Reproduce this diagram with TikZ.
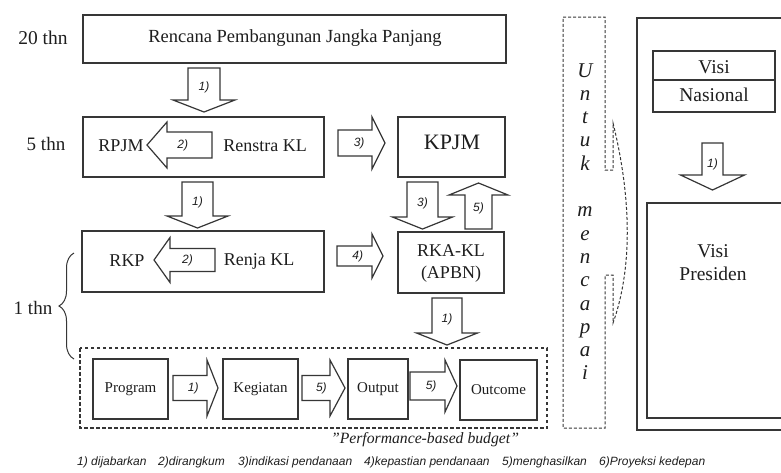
\documentclass[tikz,border=0pt]{standalone}
\usepackage{fontspec}
\setmainfont{Liberation Serif}
\newfontfamily\labelfont{Liberation Sans}
\usetikzlibrary{decorations.pathreplacing}

\definecolor{linec}{HTML}{363636}
\definecolor{ink}{HTML}{1E1E1E}

\tikzset{
  frame/.style={draw=linec, line width=1.2pt, inner sep=0pt},
  dashframe/.style={draw=linec, line width=1.1pt, dash pattern=on 3.5pt off 2.5pt},
  barrow/.style={draw=linec, line width=1.2pt, fill=white, line join=miter},
  alabel/.style={font=\labelfont\itshape\fontsize{12}{12}\selectfont, text=ink, inner sep=0pt},
  txt/.style={font=\fontsize{#1}{#1}\selectfont, text=ink, inner sep=0pt},
  txt/.default=18,
  legend/.style={font=\labelfont\itshape\fontsize{12}{12}\selectfont, text=ink, inner sep=0pt, anchor=west},
  vletter/.style={font=\itshape\fontsize{21}{21}\selectfont, text=ink, inner sep=0pt, anchor=base},
}

% block arrow: name, tail point, direction angle, length, shaft half-width,
% head half-width, head length, label
\newcommand{\blockarrow}[8]{%
  \begin{scope}[shift={#2}, rotate=#3]
    \draw[barrow] (0,#5) -- ({#4-#7},#5) -- ({#4-#7},#6) -- (#4,0)
      -- ({#4-#7},-#6) -- ({#4-#7},-#5) -- (0,-#5) -- cycle;
    \node[alabel] (#1) at ({0.45*#4},0) {#8};
  \end{scope}}

\begin{document}
\begin{tikzpicture}[x=1pt, y=-1pt]
\useasboundingbox (0,0) rectangle (781,472);
\fill[white] (0,0) rectangle (781,472);

% ---- period labels
\node[txt=19.5] (t20) at (43,38) {20 thn};
\node[txt=19] (t5) at (46,144) {5 thn};
\node[txt=19] (t1) at (33,308) {1 thn};
\draw[linec, line width=1pt, decorate, decoration={brace, amplitude=15pt}]
  (74,359) -- (74,253);

% ---- long-term plan
\node[frame, minimum width=423pt, minimum height=48pt] (rpjp) at (294.5,39) {};
\node[txt=18.5] (rpjpt) at (295,38) {Rencana Pembangunan Jangka Panjang};

% ---- five-year row
\node[frame, minimum width=241pt, minimum height=60pt] (row5) at (203.5,147) {};
\node[txt] (rpjm) at (121,146) {RPJM};
\node[txt] (renstra) at (265,146) {Renstra KL};
\node[frame, minimum width=107pt, minimum height=60pt] (kpjm) at (451.5,147) {};
\node[txt=22] (kpjmt) at (452,142) {KPJM};

% ---- one-year row
\node[frame, minimum width=242pt, minimum height=61pt] (row1) at (203,261.5) {};
\node[txt] (rkp) at (127,261) {RKP};
\node[txt] (renja) at (259,261) {Renja KL};
\node[frame, minimum width=106pt, minimum height=61pt] (rka) at (451,262.5) {};
\node[txt] (rkat) at (451,251) {RKA-KL};
\node[txt] (apbn) at (451,274) {(APBN)};

% ---- performance-based budget chain
\draw[dashframe] (80,348) rectangle (547,428);
\node[frame, minimum width=75pt, minimum height=60pt] (prog) at (130.5,389) {};
\node[txt=15] at (prog) {Program};
\node[frame, minimum width=75pt, minimum height=60pt] (keg) at (260.5,389) {};
\node[txt=15] at (keg) {Kegiatan};
\node[frame, minimum width=60pt, minimum height=60pt] (outp) at (378,389) {};
\node[txt=15] at (outp) {Output};
\node[frame, minimum width=77pt, minimum height=60pt] (outc) at (498.5,390) {};
\node[txt=15] at (outc) {Outcome};
\node[font=\itshape\fontsize{15.7}{16}\selectfont, text=ink, inner sep=0pt] (pbb)
  at (425,440) {"Performance-based budget"};

% ---- block arrows
\blockarrow{a1}{(204,68)}{-90}{44}{16}{31}{12}{1)}
\blockarrow{a2}{(212,145)}{180}{65}{13}{23}{20}{2)}
\blockarrow{a3}{(338,143)}{0}{47}{13}{26}{13}{3)}
\blockarrow{a1b}{(197.5,182)}{-90}{46}{15.5}{30.5}{12}{1)}
\blockarrow{a2b}{(215,260)}{180}{61}{11.5}{22.5}{16}{2)}
\blockarrow{a4}{(337,256)}{0}{46}{10}{22}{11}{4)}
\blockarrow{a3b}{(422.5,182)}{-90}{47}{15.5}{30}{12}{3)}
\blockarrow{a5}{(478.5,229)}{90}{46}{13.5}{29.5}{12}{5)}
\blockarrow{a1c}{(447,298)}{-90}{47}{15}{30.5}{12}{1)}
\blockarrow{b1}{(173,388)}{0}{45}{12.5}{28}{11}{1)}
\blockarrow{b2}{(302,388)}{0}{43}{12.5}{28}{15}{5)}
\blockarrow{b3}{(410,386)}{0}{47}{14}{26}{12}{5)}

% ---- "Untuk mencapai" column with its dashed arrow head
\draw[dashframe, line width=1pt, dash pattern=on 3pt off 2pt]
  (563,17) -- (605,17) -- (605,170) -- (613,170) -- (613,123)
  .. controls (632,200) and (632,270) .. (613,323)
  -- (613,275) -- (605,275) -- (605,428) -- (563,428) -- cycle;
\foreach \ch [count=\i from 0] in {U,n,t,u,k,{},m,e,n,c,a,p,a,i}
  \node[vletter] (u\i) at (585,{77+23.3*\i}) {\ch};

% ---- vision panel
\draw[linec, line width=1.2pt] (781,18) -- (637,18) -- (637,430) -- (781,430);
\node[frame, minimum width=122pt, minimum height=61pt] (vn) at (714,81.5) {};
\draw[linec, line width=1.2pt] (vn.west |- 0,80) -- (vn.east |- 0,80);
\node[txt=19.5] (visi1) at (714,67) {Visi};
\node[txt=19.5] (nas) at (714,95) {Nasional};
\blockarrow{r1}{(712.5,143)}{-90}{47}{10.5}{32}{15}{1)}
\draw[linec, line width=1.2pt] (781,203) -- (647,203) -- (647,418) -- (781,418);
\node[txt=19.5] (visi2) at (713,251) {Visi};
\node[txt=19.5] (pres) at (713,274) {Presiden};

% ---- legend
\node[legend] (l1) at (77,462) {1) dijabarkan};
\node[legend] (l2) at (158,462) {2)dirangkum};
\node[legend] (l3) at (238,462) {3)indikasi pendanaan};
\node[legend] (l4) at (364,462) {4)kepastian pendanaan};
\node[legend] (l5) at (502,462) {5)menghasilkan};
\node[legend] (l6) at (599,462) {6)Proyeksi kedepan};
\end{tikzpicture}
\end{document}
